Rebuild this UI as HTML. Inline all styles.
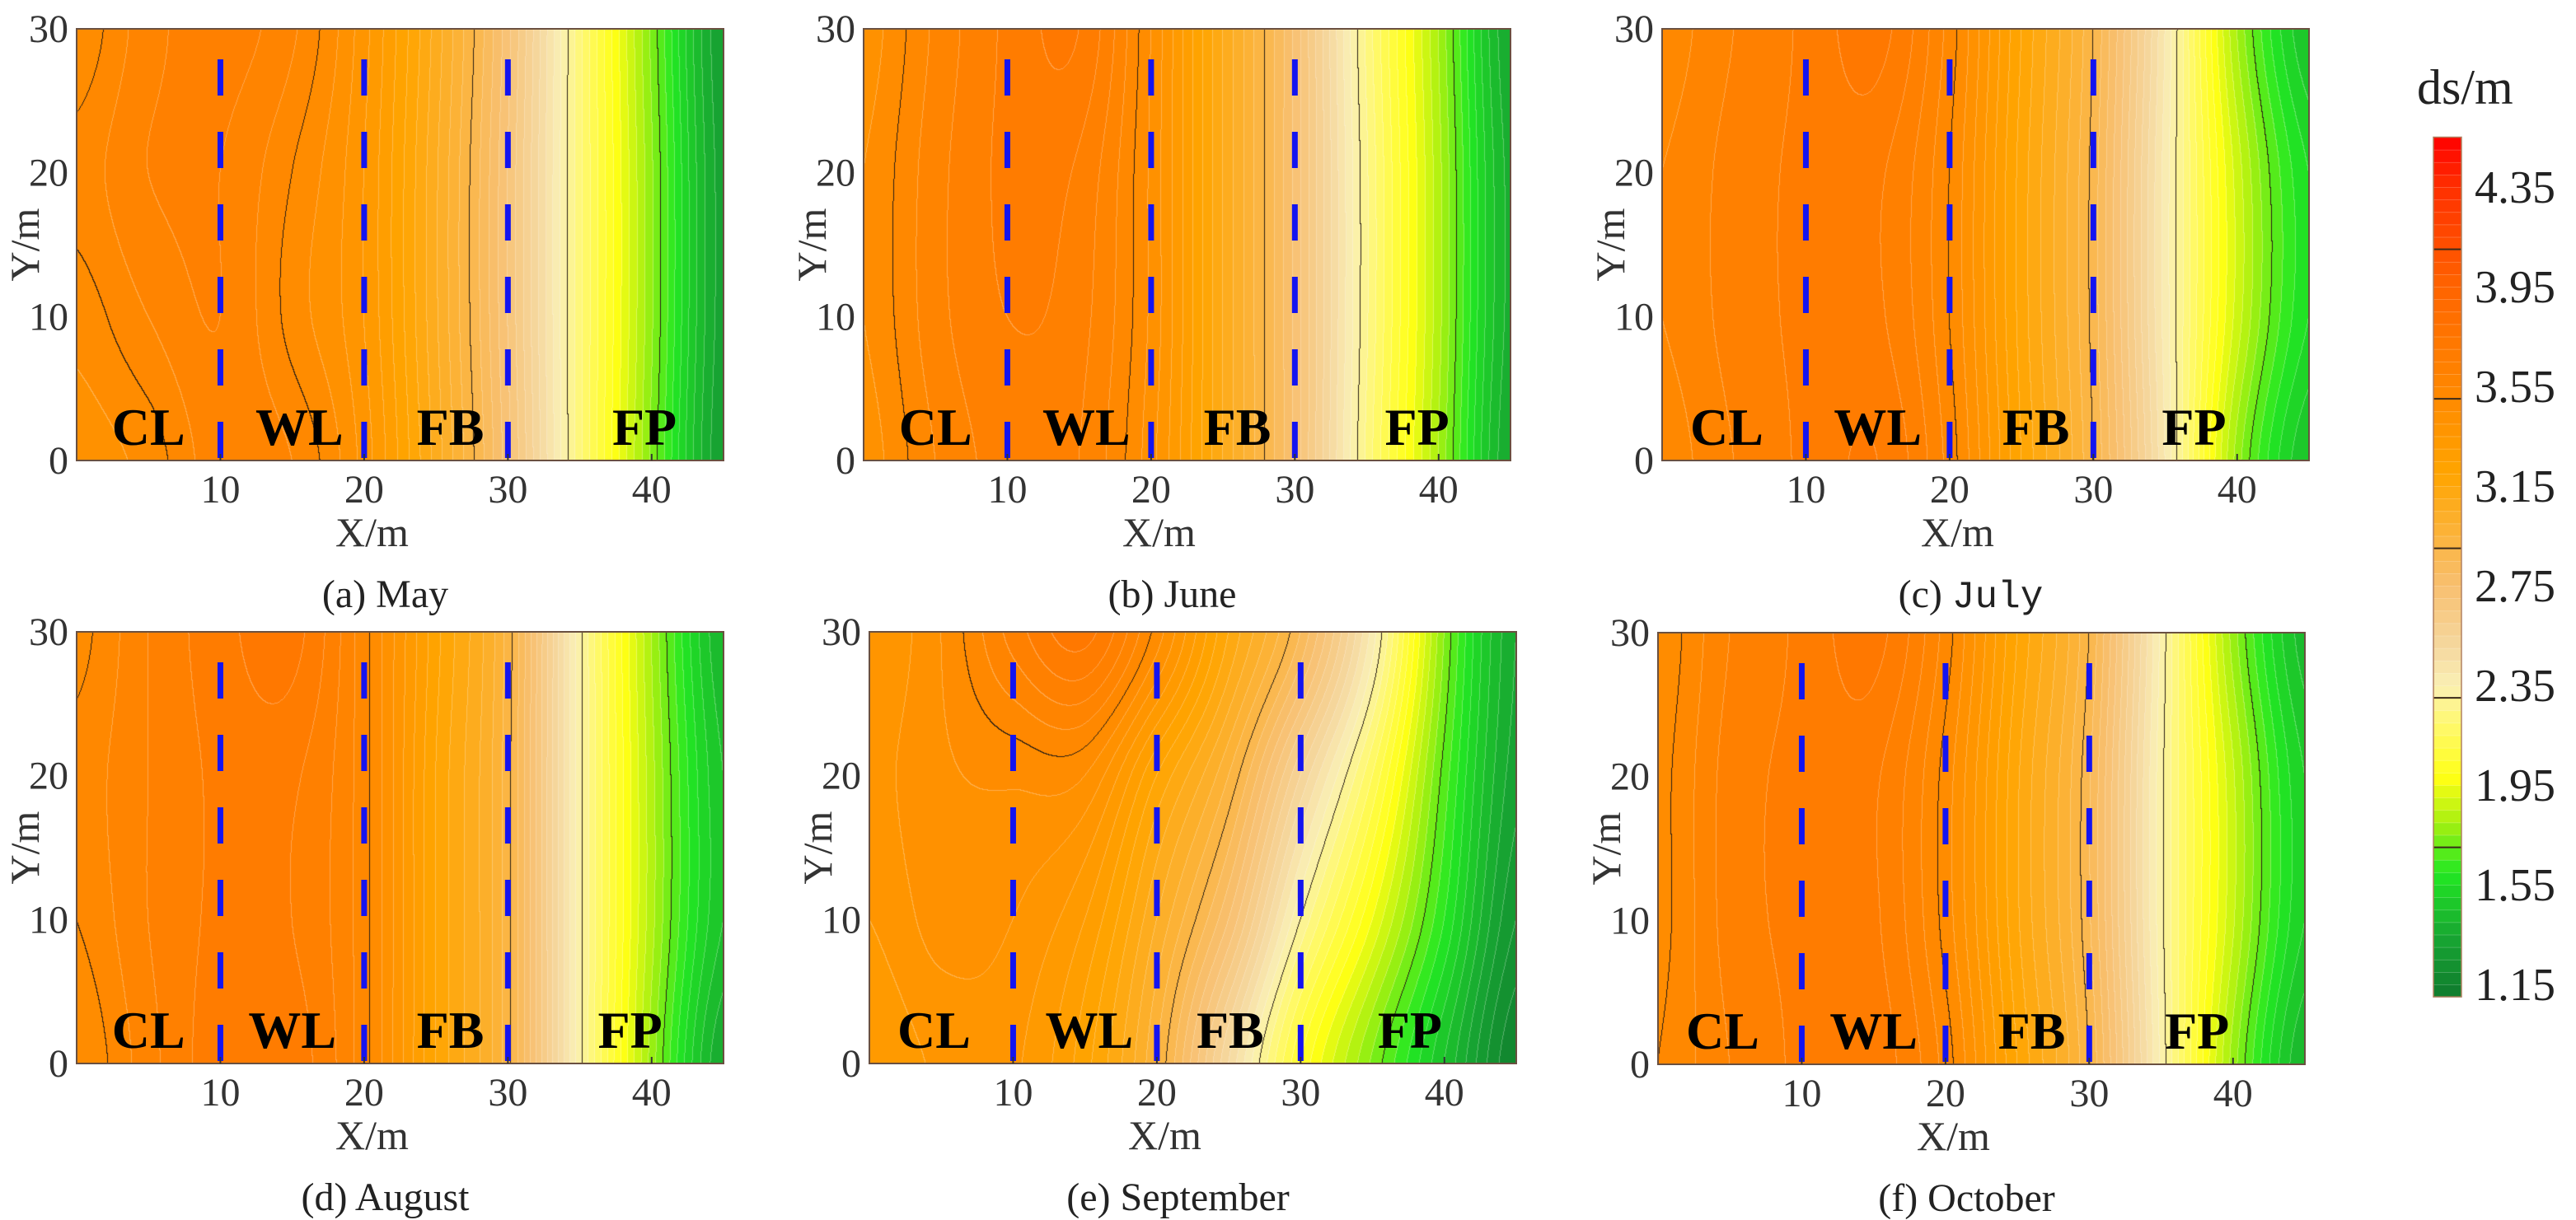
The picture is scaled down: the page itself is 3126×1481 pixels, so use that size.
<!DOCTYPE html>
<html><head><meta charset="utf-8">
<style>
html,body{margin:0;padding:0;background:#fff;}
#root{position:relative;width:3126px;height:1481px;overflow:hidden;background:#fff;font-family:"Liberation Serif",serif;}
canvas{position:absolute;}
svg{position:absolute;left:0;top:0;}
</style></head>
<body>
<div id="root">
<svg id="ov" width="3126" height="1481"></svg>
</div>
<script>
// ---- data ----
const xNodes = [0,5,10,15,20,25,30,35,40,45];
const yNodes = [0,10,20,30];
const xTicks = [10,20,30,40];
const yTicks = [0,10,20,30];
const zoneBounds = [10,20,30];
const zoneNames = ["CL","WL","FB","FP"];
const panelTitles = ["(a)  May","(b) June","(c) July","(d) August","(e) September","(f) October"];
const cbTicks = [4.35,3.95,3.55,3.15,2.75,2.35,1.95,1.55,1.15];
const majorLevels = [1.7,2.3,2.9,3.5,4.1];
// rows: y = 0,10,20,30 ; columns: x = 0..45 step 5
const fieldMay = [
 [3.42,3.47,3.58,3.55,3.38,3.08,2.72,2.22,1.74,1.30],
 [3.47,3.55,3.60,3.48,3.35,3.06,2.70,2.22,1.76,1.32],
 [3.52,3.60,3.60,3.50,3.35,3.06,2.70,2.22,1.76,1.32],
 [3.46,3.58,3.62,3.56,3.37,3.08,2.72,2.22,1.74,1.30]];
const fieldJune = [
 [3.42,3.55,3.62,3.60,3.42,3.10,2.74,2.24,1.80,1.35],
 [3.45,3.58,3.65,3.62,3.44,3.10,2.74,2.26,1.82,1.38],
 [3.45,3.58,3.66,3.64,3.44,3.10,2.74,2.26,1.82,1.38],
 [3.42,3.56,3.66,3.70,3.45,3.10,2.74,2.24,1.80,1.35]];
const fieldJuly = [
 [3.52,3.60,3.66,3.70,3.53,3.20,2.90,2.40,1.78,1.45],
 [3.55,3.62,3.66,3.66,3.50,3.18,2.88,2.38,1.88,1.55],
 [3.55,3.62,3.66,3.66,3.50,3.18,2.88,2.38,1.88,1.55],
 [3.52,3.60,3.66,3.72,3.53,3.20,2.90,2.40,1.80,1.45]];
const fieldAugust = [
 [3.45,3.58,3.68,3.68,3.52,3.20,2.92,2.32,1.78,1.35],
 [3.50,3.60,3.66,3.65,3.52,3.20,2.92,2.32,1.82,1.45],
 [3.52,3.60,3.66,3.66,3.52,3.20,2.92,2.32,1.82,1.45],
 [3.48,3.60,3.68,3.72,3.52,3.22,2.93,2.32,1.80,1.40]];
const fieldSeptember = [
 [3.30,3.36,3.36,3.22,2.95,2.50,2.05,1.74,1.45,1.15],
 [3.35,3.42,3.40,3.30,3.05,2.75,2.30,1.95,1.60,1.25],
 [3.38,3.44,3.46,3.45,3.20,2.95,2.55,2.15,1.68,1.32],
 [3.35,3.45,3.62,3.72,3.48,3.15,2.85,2.38,1.75,1.35]];
const fieldOctober = [
 [3.50,3.60,3.66,3.68,3.53,3.20,2.90,2.34,1.78,1.40],
 [3.48,3.62,3.66,3.66,3.48,3.16,2.86,2.32,1.86,1.50],
 [3.48,3.62,3.66,3.66,3.48,3.16,2.86,2.32,1.86,1.50],
 [3.46,3.60,3.66,3.72,3.53,3.20,2.90,2.34,1.78,1.42]];
const fields = [fieldMay,fieldJune,fieldJuly,fieldAugust,fieldSeptember,fieldOctober];
const labelX = [[5,15.5,26,39.5],[5,15.5,26,38.5],[4.5,15,26,37],[5,15,26,38.5],[4.5,15.3,25.1,37.6],[4.5,15,26,37.5]];

// ---- layout ----
const W = 785, H = 524, XMAX = 45, YMAX = 30;
const lefts = [93,1048,2017,93,1055,2012];
const tops = [35,35,35,767,767,768];
const stops = [[1.10,'#0f7a2e'],[1.35,'#18a832'],[1.60,'#22e822'],[1.80,'#a8f010'],[1.98,'#ffff14'],[2.20,'#fff870'],[2.35,'#faf0b4'],[2.50,'#f5d8a0'],[2.75,'#f8c070'],[3.00,'#fcb030'],[3.20,'#ffa500'],[3.50,'#ff8a00'],[3.70,'#ff7a00'],[3.95,'#ff6400'],[4.35,'#ff3000'],[4.55,'#ff0000']];
function hex(h){return [parseInt(h.substr(1,2),16),parseInt(h.substr(3,2),16),parseInt(h.substr(5,2),16)];}
function cmap(v){
  if(v<=stops[0][0]) return hex(stops[0][1]);
  for(let i=1;i<stops.length;i++){ if(v<=stops[i][0]){const a=hex(stops[i-1][1]),b=hex(stops[i][1]);const t=(v-stops[i-1][0])/(stops[i][0]-stops[i-1][0]);return [a[0]+(b[0]-a[0])*t,a[1]+(b[1]-a[1])*t,a[2]+(b[2]-a[2])*t];}}
  return hex(stops[stops.length-1][1]);
}
const BASE=1.10, STEP=0.05;
function bandColor(b){return cmap(BASE+(b+0.5)*STEP);}
function cr(p0,p1,p2,p3,t){return 0.5*((2*p1)+(-p0+p2)*t+(2*p0-5*p1+4*p2-p3)*t*t+(-p0+3*p1-3*p2+p3)*t*t*t);}
function interp(arr,nodes,v){
  const n=arr.length; let i=0;
  while(i<n-2 && v>nodes[i+1]) i++;
  const t=(v-nodes[i])/(nodes[i+1]-nodes[i]);
  return cr(arr[Math.max(i-1,0)],arr[i],arr[i+1],arr[Math.min(i+2,n-1)],t);
}
const NS='http://www.w3.org/2000/svg';
const ov=document.getElementById('ov');
function el(tag,attrs,parent){const e=document.createElementNS(NS,tag);for(const k in attrs)e.setAttribute(k,attrs[k]);(parent||ov).appendChild(e);return e;}
const root=document.getElementById('root');

fields.forEach((grid,pi)=>{
  const L=lefts[pi],T=tops[pi];
  const xs=v=>L+v/XMAX*W, ys=v=>T+H-v/YMAX*H;
  const cv=document.createElement('canvas');
  cv.width=W;cv.height=H;cv.style.left=L+'px';cv.style.top=T+'px';
  
  
  root.insertBefore(cv,ov);
  const ctx=cv.getContext('2d');
  const col=new Float32Array(W*4);
  for(let px=0;px<W;px++){const xd=(px+0.5)/W*XMAX;for(let r=0;r<4;r++)col[px*4+r]=interp(grid[r],xNodes,xd);}
  const Z=new Float32Array(W*H);
  for(let py=0;py<H;py++){const yd=YMAX-(py+0.5)/H*YMAX;for(let px=0;px<W;px++){Z[py*W+px]=interp([col[px*4],col[px*4+1],col[px*4+2],col[px*4+3]],yNodes,yd);}}
  const img=ctx.createImageData(W,H);const d=img.data;
  const bandOf=z=>Math.floor((z-BASE)/STEP);
  const majOf=z=>{let k=0;for(const m of majorLevels)if(z>=m)k++;return k;};
  for(let py=0;py<H;py++)for(let px=0;px<W;px++){
    const i=py*W+px,z=Z[i],b=bandOf(z);let c=bandColor(b);
    const zr=px<W-1?Z[i+1]:z, zd=py<H-1?Z[i+W]:z;
    if(majOf(z)!==majOf(zr)||majOf(z)!==majOf(zd)){c=[40,30,20];}
    else if(bandOf(zr)!==b||bandOf(zd)!==b){c=[c[0]+(255-c[0])*0.3,c[1]+(255-c[1])*0.3,c[2]+(255-c[2])*0.3];}
    d[i*4]=c[0];d[i*4+1]=c[1];d[i*4+2]=c[2];d[i*4+3]=255;
  }
  ctx.putImageData(img,0,0);
  const g=el('g',{});
  
  
  const fr=el('rect',{x:L,y:T,width:W,height:H,fill:'none',stroke:'#6a5040','stroke-width':2},g);
  
  
  zoneBounds.forEach(b=>{
    const ln=el('line',{x1:xs(b),x2:xs(b),y1:T+37,y2:ys(0),stroke:'#1414f0','stroke-width':7,'stroke-dasharray':'44 44'},g);
    
    
  });
  zoneNames.forEach((n,k)=>{
    const t=el('text',{x:xs(labelX[pi][k]),y:T+H-19,'text-anchor':'middle','font-size':64,'font-weight':'bold',fill:'#000'},g);
    t.textContent=n;
    
    
  });
  xTicks.forEach(v=>{
    const tk=el('line',{x1:xs(v),x2:xs(v),y1:T+H,y2:T+H-8,stroke:'#333','stroke-width':2},g);
    
    
    const t=el('text',{x:xs(v),y:T+H+51,'text-anchor':'middle','font-size':48,fill:'#333'},g);
    t.textContent=v;
    
    
  });
  yTicks.forEach(v=>{
    const t=el('text',{x:L-10,y:ys(v)+16,'text-anchor':'end','font-size':48,fill:'#333'},g);
    t.textContent=v;
    
    
  });
  const xt=el('text',{x:L+W/2-34,y:T+H+104,'text-anchor':'middle','font-size':50,fill:'#333'},g);
  xt.textContent='X/m';
  
  
  const yt=el('text',{x:0,y:0,'text-anchor':'middle','font-size':50,fill:'#333',transform:'translate('+(L-46)+','+(T+H/2)+') rotate(-90)'},g);
  yt.textContent='Y/m';
  
  
  const cap=el('text',{x:L+W/2-18,y:T+H+178,'text-anchor':'middle','font-size':48,fill:'#222'},g);
  if(pi===2){
    const s1=el('tspan',{},cap);s1.textContent='(c) ';
    const s2=el('tspan',{'font-family':'Liberation Mono, monospace','font-size':46},cap);s2.textContent='July';
  } else cap.textContent=panelTitles[pi];
  
  
});

// ---- colorbar ----
const cbX=2953, cbW=34;
const cby=v=>1195-(v-1.15)/0.4*121;
const cb=el('g',{});


for(let b=0;b<69;b++){
  const v0=BASE+b*STEP, v1=v0+STEP; const c=bandColor(b);
  const r=el('rect',{x:cbX,y:cby(v1),width:cbW,height:cby(v0)-cby(v1)+0.5,fill:'rgb('+c.map(Math.round).join(',')+')',stroke:'rgba(255,255,255,0.25)','stroke-width':0.8},cb);
  
  
}
majorLevels.forEach(v=>{
  const l=el('line',{x1:cbX,x2:cbX+cbW,y1:cby(v),y2:cby(v),stroke:'#3a2a1a','stroke-width':2},cb);
  
  
});
const cbf=el('rect',{x:cbX,y:cby(4.55),width:cbW,height:cby(1.10)-cby(4.55),fill:'none',stroke:'#b08060','stroke-width':1.5},cb);


cbTicks.forEach(v=>{
  const t=el('text',{x:3003,y:cby(v)+19,'font-size':56,fill:'#222'},cb);
  t.textContent=v.toFixed(2);
  
  
});
const cbt=el('text',{x:2933,y:126,'font-size':60,fill:'#222'},cb);
cbt.textContent='ds/m';


</script>
</body></html>
